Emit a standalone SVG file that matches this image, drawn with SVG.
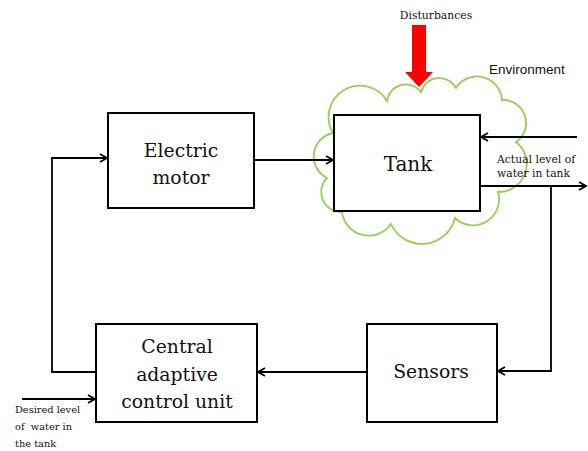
<svg xmlns="http://www.w3.org/2000/svg" width="588" height="451" viewBox="0 0 588 451">
<style>
.box{fill:#fff;stroke:#000;stroke-width:2}
.lbl{font-family:"DejaVu Serif","Liberation Serif",serif;font-size:18.8px;fill:#111;text-anchor:middle}
.sm{font-family:"DejaVu Serif","Liberation Serif",serif;font-size:10.8px;fill:#111}
.ln{fill:none;stroke:#000;stroke-width:1.8;marker-end:url(#ah)}
.cloud{fill:#fff;stroke:#92D050;stroke-width:1.8}
</style>
<defs>
<marker id="ah" markerUnits="userSpaceOnUse" markerWidth="12" markerHeight="12" refX="8" refY="5" orient="auto">
<path d="M1,1 L8,5 L1,9" fill="none" stroke="#000" stroke-width="1.8"/>
</marker>
</defs>
<rect width="588" height="451" fill="#fff"/>
<g id="environment">
<path class="cloud" d="M333,133 A30,30 0 0 1 387,101 A19,19 0 0 1 421,92 A19,19 0 0 1 456,88 A25,25 0 0 1 502,100 A23,23 0 0 1 516,142 A28,28 0 0 1 498,192 A26,26 0 0 1 455,218 A34,34 0 0 1 391,224 A27,27 0 0 1 342,212 A20,20 0 0 1 327,178 A24,24 0 0 1 333,133 Z"/>
<text x="489" y="73.5" font-family="'Liberation Sans','DejaVu Sans',sans-serif" font-size="13.5" fill="#111">Environment</text>
</g>
<g id="disturbances">
<text class="sm" x="436" y="18.5" text-anchor="middle">Disturbances</text>
<path d="M412,25 H426 V72 H433 L419,87 L405,72 H412 Z" fill="#FF0000"/>
</g>
<g id="connectors">
<path class="ln" d="M96,372 H52 V158 H107"/>
<path class="ln" d="M254,160 H333"/>
<path class="ln" d="M577,137 H481"/>
<path class="ln" d="M480,186 H586"/>
<path class="ln" d="M551,186 V371 H498"/>
<path class="ln" d="M367,372 H258"/>
<path class="ln" d="M22,399 H95"/>
</g>
<g id="electric-motor">
<rect class="box" x="108" y="113" width="146" height="95"/>
<text class="lbl" x="181" y="156.5">Electric</text>
<text class="lbl" x="181" y="183.5">motor</text>
</g>
<g id="tank">
<rect class="box" x="334" y="115" width="146" height="96"/>
<text class="lbl" x="408" y="170.5" style="font-size:20px">Tank</text>
</g>
<g id="actual-level">
<text class="sm" x="497" y="162.5">Actual level of</text>
<text class="sm" x="497" y="176.5">water in tank</text>
</g>
<g id="sensors">
<rect class="box" x="367" y="324" width="130" height="98"/>
<text class="lbl" x="431" y="377.5">Sensors</text>
</g>
<g id="central">
<rect class="box" x="96" y="324" width="161" height="98"/>
<text class="lbl" x="177" y="353">Central</text>
<text class="lbl" x="177" y="380.5">adaptive</text>
<text class="lbl" x="177" y="408">control unit</text>
</g>
<g id="desired-level">
<text class="sm" x="15" y="412.5" style="font-size:9.8px">Desired level</text>
<text class="sm" x="15" y="429.5" style="font-size:9.8px">of&#160; water in</text>
<text class="sm" x="15" y="446.5" style="font-size:9.8px">the tank</text>
</g>
</svg>
